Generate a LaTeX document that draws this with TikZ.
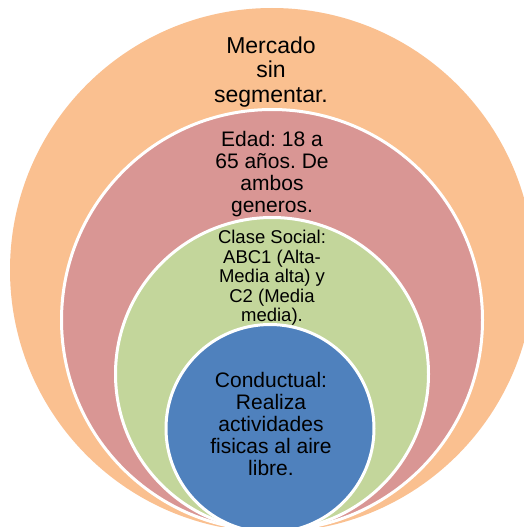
\documentclass[tikz,border=0pt]{standalone}
\usepackage{fontspec}
\setmainfont{Liberation Sans}
\frenchspacing
\definecolor{cOrange}{HTML}{FAC090}
\definecolor{cRed}{HTML}{D99694}
\definecolor{cGreen}{HTML}{C3D69B}
\definecolor{cBlue}{HTML}{4F81BD}
\tikzset{
  ring/.style={draw=white, line width=3pt},
  lbl/.style={align=center, inner sep=0pt, text=black},
}
\begin{document}
\begin{tikzpicture}[x=1pt,y=-1pt]
\useasboundingbox (0,0) rectangle (524,527);
\clip (0,0) rectangle (524,527);
\fill[white] (0,0) rectangle (524,527);
\fill[cOrange] (272,270) circle[radius=262];
\node[lbl, font=\fontsize{23}{24.5}\selectfont] (t1) at (271,72) {Mercado\\sin\\segmentar.};
\filldraw[ring, fill=cRed] (272,320) circle[radius=210.5];
\node[lbl, font=\fontsize{21}{22}\selectfont] (t2) at (272,174) {Edad: 18 a\\65 años. De\\ambos\\generos.};
\filldraw[ring, fill=cGreen] (272,374) circle[radius=156.5];
\node[lbl, font=\fontsize{18.5}{19.4}\selectfont] (t3) at (272,278) {Clase Social:\\ABC1 (Alta-\\Media alta) y\\C2 (Media\\media).};
\filldraw[ring, fill=cBlue] (270,428.5) circle[radius=104];
\node[lbl, font=\fontsize{21}{21.8}\selectfont] (t4) at (271,424) {Conductual:\\Realiza\\actividades\\fisicas al aire\\libre.};
\end{tikzpicture}
\end{document}
